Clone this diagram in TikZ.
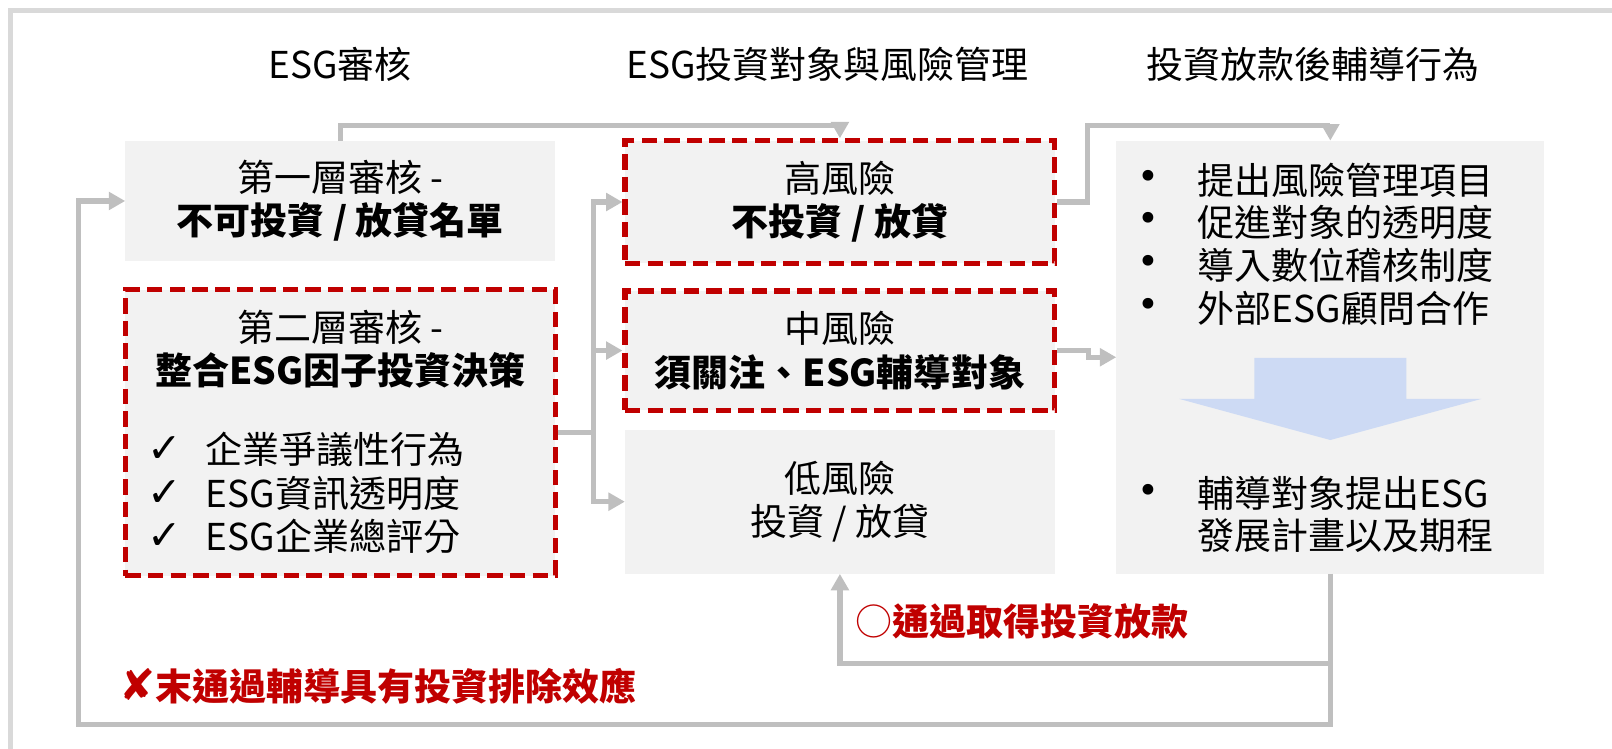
\documentclass[tikz,border=0pt]{standalone}
\usepackage{fontspec}
\setmainfont{Noto Sans CJK TC}
\newfontfamily\symfont{DejaVu Sans}
\usetikzlibrary{arrows.meta}
\definecolor{boxgray}{HTML}{F2F2F2}
\definecolor{linegray}{HTML}{BFBFBF}
\definecolor{framegray}{HTML}{D9D9D9}
\definecolor{darkred}{HTML}{C00000}
\definecolor{arrowblue}{RGB}{205,218,244}
\begin{document}
\begin{tikzpicture}[x=1pt,y=-1pt,
  txt/.style={font=\fontsize{36pt}{42pt}\selectfont, inner sep=0pt, align=center},
  graybox/.style={txt, fill=boxgray, draw=none, minimum width=418pt},
  redbox/.style={graybox, draw=darkred, line width=5pt, dash pattern=on 15pt off 7pt},
  conn/.style={draw=linegray, line width=5pt, -{Triangle[length=16pt,width=17pt]}},
  plainline/.style={draw=linegray, line width=5pt},
  redlbl/.style={txt, font=\fontsize{36pt}{42pt}\selectfont\bfseries, text=darkred, anchor=west},
  chk/.style={font=\symfont\fontsize{40pt}{40pt}\selectfont, inner sep=0pt},
  item/.style={txt, anchor=west},
  bul/.style={font=\symfont\fontsize{36pt}{40pt}\selectfont, inner sep=0pt}]
\useasboundingbox (0,0) rectangle (1568,728);
\draw[framegray, line width=5pt] (10,760) -- (10,10) -- (1600,10);

% titles
\node[txt] (t1) at (331,63) {ESG審核};
\node[txt] (t2) at (805,63) {ESG投資對象與風險管理};
\node[txt] (t3) at (1277,63) {投資放款後輔導行為};

% left column
\node[graybox, minimum height=117pt] (b1) at (331,195.5) {第一層審核 -\\\textbf{不可投資 / 放貸名單}};
\node[redbox, minimum height=278pt] (b2) at (331,421) {};
\node[txt] (b2t) at (331,340) {第二層審核 -\\\textbf{整合ESG因子投資決策}};
\node[chk] (c1) at (160,437) {✓};
\node[chk] (c2) at (160,480) {✓};
\node[chk] (c3) at (160,522) {✓};
\node[item] (l1) at (200,437) {企業爭議性行為};
\node[item] (l2) at (200,480) {ESG資訊透明度};
\node[item] (l3) at (200,522) {ESG企業總評分};

% middle column
\node[redbox, minimum height=119pt] (hi) at (817,196.5) {高風險\\\textbf{不投資 / 放貸}};
\node[redbox, minimum height=116pt] (mid) at (817,341) {中風險\\\textbf{須關注、ESG輔導對象}};
\node[graybox, minimum height=140pt] (low) at (817,488) {低風險\\投資 / 放貸};

% right column
\node[graybox, minimum width=416pt, minimum height=421pt] (rb) at (1294,347.5) {};
\node[bul] (u1) at (1117,175) {•};
\node[bul] (u2) at (1117,216) {•};
\node[bul] (u3) at (1117,258) {•};
\node[bul] (u4) at (1117,300) {•};
\node[bul] (u5) at (1117,480) {•};
\node[item] (r1t) at (1165,175) {提出風險管理項目};
\node[item] (r2t) at (1165,216) {促進對象的透明度};
\node[item] (r3t) at (1165,258) {導入數位稽核制度};
\node[item] (r4t) at (1165,300) {外部ESG顧問合作};
\node[item] (r5t) at (1165,480) {輔導對象提出ESG};
\node[item] (r6t) at (1165,521) {發展計畫以及期程};
\fill[arrowblue] (1220,348) -- (1368,348) -- (1368,388) -- (1441,388) -- (1294,428) -- (1147,388) -- (1220,388) -- cycle;

% connectors
\draw[conn] (b1.north) -- ++(0,-15) -| (hi.north);
\coordinate (jn) at ([xshift=35pt]b2.east);
\draw[plainline] (b2.east) -- (jn);
\draw[conn] (jn) |- (hi.west);
\draw[conn] (jn) |- (mid.west);
\draw[conn] (jn) |- (low.west);
\coordinate (rtop) at ([yshift=15pt]rb.north);
\draw[conn] (hi.east) -- ++(29,0) |- (rtop) -- (rb.north);
\draw[conn] (mid.east) -- ++(30,0) |- (rb.west);
\coordinate (rp) at (1294,645);
\coordinate (rq) at (1294,705);
\coordinate (lq) at (76,705);
\draw[conn] (rb.south) -- (rp) -| (low.south);
\draw[conn] (rb.south) -- (rq) -- (lq) |- (b1.west);

% labels
\node[redlbl] (pass) at (832,604) {{\mdseries ○}通過取得投資放款};
\node[redlbl] (fail) at (116,668) {{\symfont\mdseries\fontsize{42pt}{42pt}\selectfont ✘}末通過輔導具有投資排除效應};
\end{tikzpicture}
\end{document}
